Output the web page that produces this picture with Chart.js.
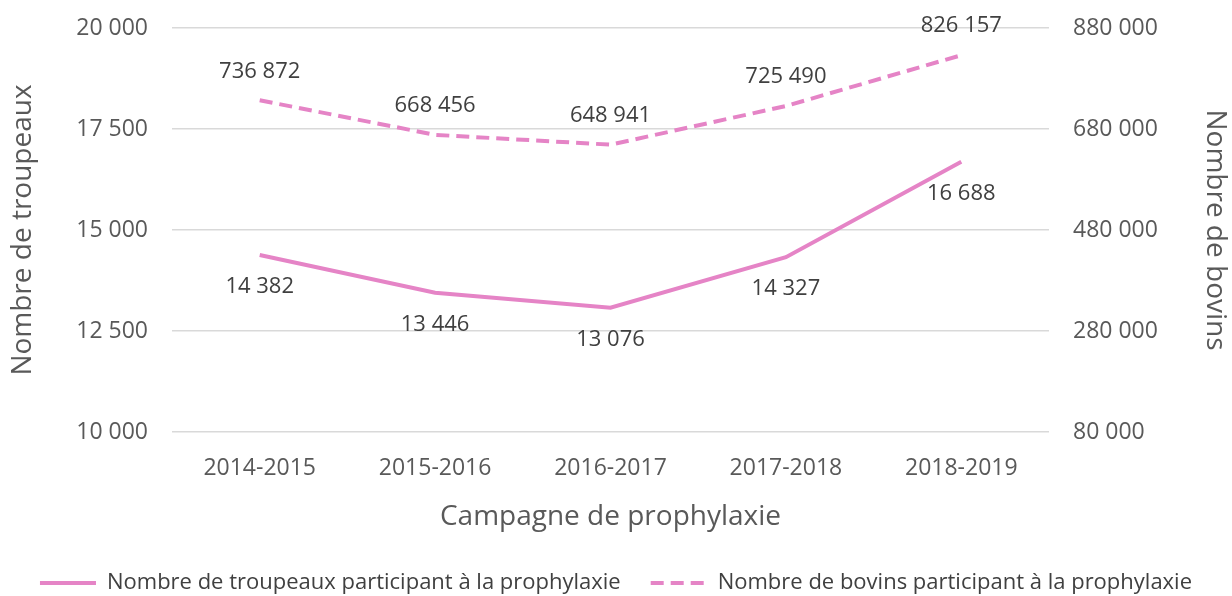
<!DOCTYPE html>
<html>
<head>
<meta charset="utf-8">
<script src="https://cdn.jsdelivr.net/npm/chart.js@4/dist/chart.umd.min.js"></script>
<style>
  html, body { margin: 0; padding: 0; background: #fff; }
  #wrap { width: 1232px; height: 596px; position: relative; }
</style>
</head>
<body>
<div id="wrap"><canvas id="c" width="1232" height="596"></canvas></div>
<script>
const categories = ['2014-2015', '2015-2016', '2016-2017', '2017-2018', '2018-2019'];
const troupeaux = [14382, 13446, 13076, 14327, 16688];
const bovins = [736872, 668456, 648941, 725490, 826157];
const seriesNames = ['Nombre de troupeaux participant à la prophylaxie', 'Nombre de bovins participant à la prophylaxie'];

const PINK = '#e584c6';
const FONT = "'Open Sans', sans-serif";
const fmt = v => String(Math.round(v)).replace(/\B(?=(\d{3})+(?!\d))/g, ' ');

const labelPlugin = {
  id: 'valueLabels',
  afterDatasetsDraw(chart) {
    const ctx = chart.ctx;
    ctx.save();
    ctx.font = '22px ' + FONT;
    ctx.fillStyle = '#404040';
    ctx.textAlign = 'center';
    ctx.textBaseline = 'middle';
    chart.data.datasets.forEach((ds, i) => {
      const meta = chart.getDatasetMeta(i);
      meta.data.forEach((pt, j) => {
        const off = i === 0 ? 32 : -29;
        ctx.fillText(fmt(ds.data[j]), pt.x, pt.y + off);
      });
    });
    ctx.restore();
  }
};

new Chart(document.getElementById('c'), {
  type: 'line',
  data: {
    labels: categories,
    datasets: [
      { label: seriesNames[0], data: troupeaux, yAxisID: 'y', borderColor: PINK, backgroundColor: PINK,
        borderWidth: 4, pointRadius: 0, tension: 0, pointStyle: 'line' },
      { label: seriesNames[1], data: bovins, yAxisID: 'y1', borderColor: PINK, backgroundColor: PINK,
        borderWidth: 4, borderDash: [13, 7], pointRadius: 0, tension: 0, pointStyle: 'line' }
    ]
  },
  options: {
    responsive: false,
    animation: false,
    devicePixelRatio: 1,
    layout: { padding: { top: 28, bottom: 0, left: 0, right: 0 } },
    plugins: {
      tooltip: { enabled: false },
      legend: {
        position: 'bottom',
        maxHeight: 54,
        labels: {
          usePointStyle: true,
          pointStyleWidth: 56,
          boxHeight: 4,
          padding: 30,
          color: '#404040',
          font: { family: FONT, size: 22 },
          generateLabels(chart) {
            const items = Chart.defaults.plugins.legend.labels.generateLabels(chart);
            items.forEach(it => {
              const ds = chart.data.datasets[it.datasetIndex];
              it.lineDash = ds.borderDash || [];
              it.lineWidth = 4;
              it.strokeStyle = ds.borderColor;
            });
            return items;
          }
        }
      }
    },
    scales: {
      x: {
        offset: true,
        grid: { display: false },
        border: { display: false },
        ticks: { color: '#595959', font: { family: FONT, size: 23 }, padding: 15 },
        title: { display: true, text: 'Campagne de prophylaxie', color: '#595959',
                 font: { family: FONT, size: 28 }, padding: { top: 10, bottom: 8 } },
        afterFit(s) { s.height = 110; s.paddingLeft = 0; s.paddingRight = 0; }
      },
      y: {
        position: 'left',
        min: 10000, max: 20000,
        ticks: { stepSize: 2500, color: '#595959', font: { family: FONT, size: 23 }, padding: 24,
                 callback: v => fmt(v) },
        grid: { color: '#d9d9d9', lineWidth: 1.5, drawTicks: false },
        border: { display: false },
        title: { display: true, text: 'Nombre de troupeaux', color: '#595959',
                 font: { family: FONT, size: 28 }, padding: { top: 6, bottom: 0 } },
        afterFit(s) { s.width = 172; s.paddingTop = 0; s.paddingBottom = 0; }
      },
      y1: {
        position: 'right',
        min: 80000, max: 880000,
        ticks: { stepSize: 200000, color: '#595959', font: { family: FONT, size: 23 }, padding: 24,
                 callback: v => fmt(v) },
        grid: { display: false, drawTicks: false },
        border: { display: false },
        title: { display: true, text: 'Nombre de bovins', color: '#595959',
                 font: { family: FONT, size: 28 }, padding: { top: 0, bottom: 0 } },
        afterFit(s) { s.width = 183; s.paddingTop = 0; s.paddingBottom = 0; }
      }
    }
  },
  plugins: [labelPlugin]
});
</script>
</body>
</html>
